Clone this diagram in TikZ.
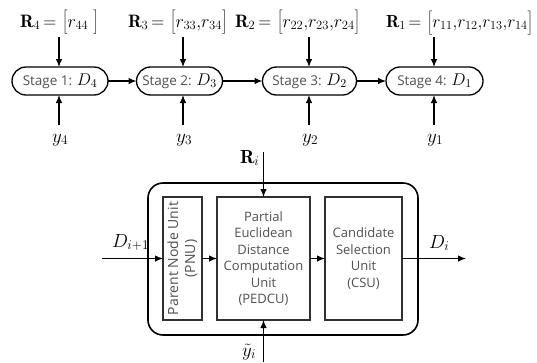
\RequirePackage{fix-cm}
\documentclass[tikz,border=0pt]{standalone}
\usepackage{fontspec}
\setsansfont{Open Sans}
\usetikzlibrary{arrows.meta}
\definecolor{txtgray}{HTML}{505050}
\definecolor{boxline}{HTML}{303030}
\newcommand{\stD}[1]{\textcolor{black}{\fontsize{17}{17}\selectfont$D_{#1}$}}
\newcommand{\eqs}{\,{=}\,}
\newcommand{\brk}[1]{\left[\rule[-6pt]{0pt}{21pt}#1\right]}
\begin{document}
\begin{tikzpicture}[x=1pt,y=-1pt,
  every node/.style={inner sep=0pt, outer sep=0pt},
  stagebox/.style={draw=black, line width=1.3pt, rounded corners=14pt, minimum height=28pt,
    font=\sffamily\fontsize{13.5}{16}\selectfont, text=txtgray},
  unitbox/.style={draw=boxline, line width=1.1pt,
    font=\sffamily\fontsize{13}{16.5}\selectfont, text=txtgray, align=center},
  outerbox/.style={draw=black, line width=1.6pt, rounded corners=15pt},
  lab/.style={font=\fontsize{19}{22}\selectfont},
  toplab/.style={font=\fontsize{18}{21}\selectfont, anchor=base west},
  arr/.style={-{Latex[length=8pt,width=6.5pt]}, line width=1.1pt}
]
\useasboundingbox (0,0) rectangle (537,362);

% top row stages
\node[stagebox, minimum width=96pt] (s1) at (60,81) {Stage 1: \stD{4}};
\node[stagebox, minimum width=86pt] (s2) at (179.5,81) {Stage 2: \stD{3}};
\node[stagebox, minimum width=94pt] (s3) at (309.5,81) {Stage 3: \stD{2}};
\node[stagebox, minimum width=97pt] (s4) at (434.5,81) {Stage 4: \stD{1}};

\draw[arr] (s1) -- (s2);
\draw[arr] (s2) -- (s3);
\draw[arr] (s3) -- (s4);

% R labels
\node[toplab] (R4) at (20,27) {$\mathbf{R}_4\eqs\brk{r_{44}\;}$};
\node[toplab] (R3) at (128,27) {$\mathbf{R}_3\eqs\brk{r_{33}{,}r_{34}}$};
\node[toplab] (R2) at (235,27) {$\mathbf{R}_2\eqs\brk{r_{22}{,}r_{23}{,}r_{24}}$};
\node[toplab, font=\fontsize{17.5}{21}\selectfont] (R1) at (386,27) {$\mathbf{R}_1\eqs\brk{r_{11}{,}r_{12}{,}r_{13}{,}r_{14}}$};

\coordinate (t1) at (59,37);
\coordinate (t2) at (183,37);
\coordinate (t3) at (309,37);
\coordinate (t4) at (434,37);
\draw[arr] (t1) -- (t1 |- s1.north);
\draw[arr] (t2) -- (t2 |- s2.north);
\draw[arr] (t3) -- (t3 |- s3.north);
\draw[arr] (t4) -- (t4 |- s4.north);

% y labels
\node[lab, anchor=base west] (y4) at (52,142) {$y_4$};
\node[lab, anchor=base west] (y3) at (176,142) {$y_3$};
\node[lab, anchor=base west] (y2) at (302,142) {$y_2$};
\node[lab, anchor=base west] (y1) at (427,142) {$y_1$};
\coordinate (b1) at (59,125);
\coordinate (b2) at (183,125);
\coordinate (b3) at (309,125);
\coordinate (b4) at (434,125);
\draw[arr] (b1) -- (b1 |- s1.south);
\draw[arr] (b2) -- (b2 |- s2.south);
\draw[arr] (b3) -- (b3 |- s3.south);
\draw[arr] (b4) -- (b4 |- s4.south);

% bottom block
\node[outerbox, minimum width=270pt, minimum height=152pt] (outer) at (283,259) {};
\node[unitbox, rotate=90, minimum width=123pt, minimum height=39pt,
  font=\sffamily\fontsize{14}{17}\selectfont] (pnu) at (182.5,258.5) {Parent Node Unit\\(PNU)};
\node[unitbox, minimum width=93pt, minimum height=123pt] (pedcu) at (263.5,258.5) {Partial\\Euclidean\\Distance\\Computation\\Unit\\(PEDCU)};
\node[unitbox, minimum width=77pt, minimum height=123pt] (csu) at (363.5,258.5) {Candidate\\Selection\\Unit\\(CSU)};

\draw[arr] (pnu.south) -- (pedcu.west);
\draw[arr] (pedcu) -- (csu);

\coordinate (inL) at (102,258.5);
\coordinate (outR) at (466,258.5);
\draw[arr] (inL) -- (pnu.north);
\draw[arr] (csu.east) -- (outR);
\node[lab, anchor=base west] (dip) at (112,247) {$D_{i+1}$};
\node[lab, anchor=base west] (di) at (429,248) {$D_i$};

\coordinate (ri) at (263.5,152);
\coordinate (yi) at (263.5,362);
\draw[arr] (ri) -- (pedcu.north);
\draw[arr] (yi) -- (pedcu.south);
\node[lab, anchor=base west] (Ri) at (240,163) {$\mathbf{R}_i$};
\node[lab, anchor=base west] (yti) at (242,356) {$\tilde{y}_i$};
\end{tikzpicture}
\end{document}
